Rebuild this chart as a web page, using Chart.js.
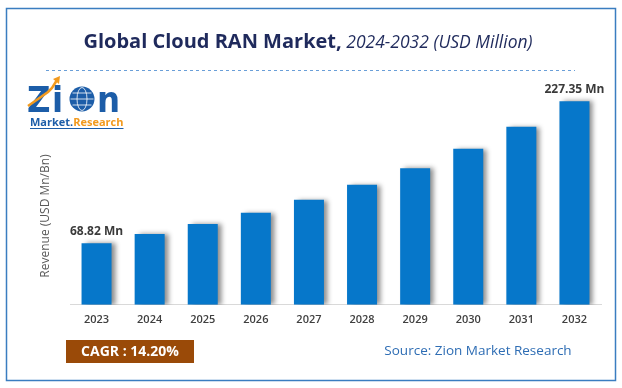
<!DOCTYPE html>
<html>
<head>
<meta charset="utf-8">
<script src="https://cdn.jsdelivr.net/npm/chart.js@4.4.1/dist/chart.umd.min.js"></script>
<style>
  html, body { margin: 0; padding: 0; background: #fff; }
  #wrap { width: 622px; height: 388px; position: relative; }
</style>
</head>
<body>
<div id="wrap"><canvas id="chartRan" width="622" height="388"></canvas></div>
<script>
// datos del gráfico
const years = ['2023', '2024', '2025', '2026', '2027', '2028', '2029', '2030', '2031', '2032'];
const revenue = [68.82, 79.0, 90.2, 102.8, 117.4, 134.0, 152.4, 174.2, 199.0, 227.35];
const valueLabels = ['68.82 Mn', '', '', '', '', '', '', '', '', '227.35 Mn'];

const BLUE = '#0677CA';

// marco, título, logo y pie
const decoPlugin = {
    id: 'deco',
    beforeDraw(chart) {
        const ctx = chart.ctx;
        ctx.save();
        ctx.fillStyle = '#fff';
        ctx.fillRect(0, 0, chart.width, chart.height);

        // borde
        ctx.strokeStyle = '#3A7DC0';
        ctx.lineWidth = 1.5;
        ctx.strokeRect(6.5, 8.5, 609, 372);

        // título
        ctx.textBaseline = 'alphabetic';
        ctx.textAlign = 'left';
        const t1 = 'Global Cloud RAN Market,';
        const t2 = ' 2024-2032 (USD Million)';
        ctx.font = 'bold 20px "Open Sans"';
        const w1 = ctx.measureText(t1).width;
        ctx.font = 'italic 17.5px "Open Sans"';
        const w2 = ctx.measureText(t2).width;
        let x0 = 308 - (w1 + w2) / 2;
        ctx.fillStyle = '#1F2A5C';
        ctx.font = 'bold 20px "Open Sans"';
        ctx.fillText(t1, x0, 48);
        ctx.font = 'italic 17.5px "Open Sans"';
        ctx.fillText(t2, x0 + w1, 48);

        // línea discontinua
        ctx.strokeStyle = '#6A9FD8';
        ctx.lineWidth = 1;
        ctx.setLineDash([3, 3]);
        ctx.beginPath();
        ctx.moveTo(46, 70.5);
        ctx.lineTo(575, 70.5);
        ctx.stroke();
        ctx.setLineDash([]);

        // logo Zion
        ctx.fillStyle = '#1C5DA8';
        ctx.font = 'bold 36px "DejaVu Sans Condensed", "DejaVu Sans"';
        ctx.textBaseline = 'alphabetic';
        ctx.fillText('Z', 27, 112);
        ctx.fillText('i', 52, 112);
        ctx.fillText('n', 97, 112);
        // globo
        ctx.beginPath();
        ctx.arc(82, 99, 12.5, 0, Math.PI * 2);
        ctx.fill();
        ctx.strokeStyle = '#fff';
        ctx.lineWidth = 0.8;
        ctx.beginPath();
        ctx.ellipse(82, 99, 5, 11.5, 0, 0, Math.PI * 2);
        ctx.moveTo(70.5, 99); ctx.lineTo(93.5, 99);
        ctx.moveTo(72.5, 93); ctx.lineTo(91.5, 93);
        ctx.moveTo(72.5, 105); ctx.lineTo(91.5, 105);
        ctx.stroke();
        // flecha naranja
        ctx.strokeStyle = '#F29A1E';
        ctx.lineWidth = 2.5;
        ctx.beginPath();
        ctx.moveTo(28, 106);
        ctx.lineTo(48, 92);
        ctx.lineTo(52, 88);
        ctx.lineTo(57, 80);
        ctx.stroke();
        ctx.fillStyle = '#F29A1E';
        ctx.beginPath();
        ctx.moveTo(60, 76); ctx.lineTo(53, 79); ctx.lineTo(59, 84);
        ctx.closePath();
        ctx.fill();
        // texto del logo
        ctx.font = 'bold 11px "Open Sans"';
        ctx.fillStyle = '#1C5DA8';
        ctx.fillText('Market.', 30, 126);
        const wm = ctx.measureText('Market.').width;
        ctx.fillStyle = '#F29A1E';
        ctx.fillText('Research', 30 + wm, 126);
        const wr = ctx.measureText('Research').width;
        ctx.strokeStyle = '#1C5DA8';
        ctx.lineWidth = 1;
        ctx.beginPath();
        ctx.moveTo(30, 128.5); ctx.lineTo(30 + wm + wr, 128.5);
        ctx.stroke();

        // título del eje Y
        ctx.save();
        ctx.translate(46, 216);
        ctx.rotate(-Math.PI / 2);
        ctx.textAlign = 'center';
        ctx.textBaseline = 'middle';
        ctx.font = '12px "Open Sans"';
        ctx.fillStyle = '#595959';
        ctx.fillText('Revenue (USD Mn/Bn)', 0, 0);
        ctx.restore();

        // CAGR
        ctx.fillStyle = '#9A4A08';
        ctx.fillRect(66, 340, 128, 23);
        ctx.fillStyle = '#fff';
        ctx.font = 'bold 14px "Open Sans"';
        ctx.textAlign = 'center';
        ctx.textBaseline = 'middle';
        ctx.fillText('CAGR : 14.20%', 130, 352);

        // fuente
        ctx.fillStyle = '#2E6DB4';
        ctx.font = '13.5px "Open Sans"';
        ctx.textAlign = 'center';
        ctx.fillText('Source: Zion Market Research', 478, 351);
        ctx.restore();
    },
    beforeDatasetsDraw(chart) {
        const ctx = chart.ctx;
        ctx.save();
        ctx.shadowColor = 'rgba(0,0,0,0.45)';
        ctx.shadowBlur = 5;
        ctx.shadowOffsetX = 4;
        ctx.shadowOffsetY = 0;
    },
    afterDatasetsDraw(chart) {
        const ctx = chart.ctx;
        ctx.restore();
        // etiquetas de valor
        const meta = chart.getDatasetMeta(0);
        ctx.save();
        ctx.font = 'bold 12px "Open Sans"';
        ctx.fillStyle = '#3A3A3A';
        ctx.textAlign = 'center';
        ctx.textBaseline = 'bottom';
        meta.data.forEach(function(bar, i) {
            if (valueLabels[i]) ctx.fillText(valueLabels[i], bar.x, bar.y - 6);
        });
        ctx.restore();
    }
};

const ctxRan = document.getElementById('chartRan').getContext('2d');
new Chart(ctxRan, {
    type: 'bar',
    data: {
        labels: years,
        datasets: [{
            data: revenue,
            backgroundColor: BLUE,
            borderWidth: 0,
            barPercentage: 0.565,
            categoryPercentage: 1
        }]
    },
    options: {
        responsive: false,
        animation: false,
        layout: { padding: { left: 70, right: 21, top: 81, bottom: 62 } },
        plugins: {
            legend: { display: false },
            tooltip: { enabled: false }
        },
        scales: {
            x: {
                grid: { display: false },
                border: { display: true, color: '#D9D9D9', width: 1 },
                ticks: {
                    padding: 0,
                    color: '#404040',
                    font: { family: 'Open Sans', size: 11, weight: '600' }
                }
            },
            y: {
                display: false,
                min: 0,
                max: 250
            }
        }
    },
    plugins: [decoPlugin]
});
</script>
</body>
</html>
